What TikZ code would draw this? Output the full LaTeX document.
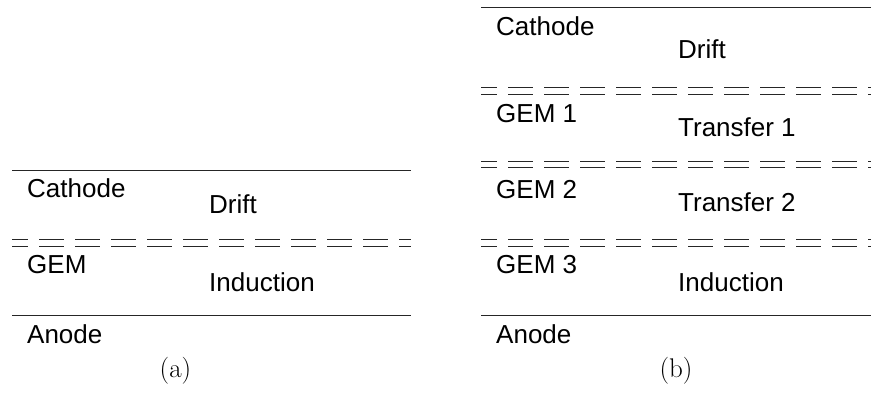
\documentclass[tikz,border=0pt]{standalone}
\usepackage{fontspec}
\setsansfont{Liberation Sans}
\begin{document}
\begin{tikzpicture}[x=1pt,y=-1pt,
  plate/.style={line width=1pt, draw=black!85},
  gemline/.style={line width=0.9pt, draw=black!85, dash pattern=on 25pt off 11pt, dash phase=9pt},
  lbl/.style={anchor=base west, inner sep=0pt, font=\fontsize{26}{30}\selectfont\sffamily},
  subcap/.style={anchor=center, inner sep=0pt, font=\fontsize{27}{30}\selectfont\rmfamily}]
\useasboundingbox (0,0) rectangle (871,410);
% ---------- (a) ----------
\coordinate (aTL) at (12,170.7);   \coordinate (aTR) at (411,170.7);
\coordinate (aG1L) at (12,239.7);  \coordinate (aG1R) at (411,239.7);
\coordinate (aG2L) at (12,246.3);  \coordinate (aG2R) at (411,246.3);
\coordinate (aAL) at (12,315.5);   \coordinate (aAR) at (411,315.5);
\draw[plate] (aTL) -- (aTR);
\draw[gemline] (aG1L) -- (aG1R);
\draw[gemline] (aG2L) -- (aG2R);
\draw[plate] (aAL) -- (aAR);
\node[lbl] (aCath) at (27,197) {Cathode};
\node[lbl] (aDrift) at (209,213) {Drift};
\node[lbl] (aGem) at (27,273) {GEM};
\node[lbl] (aInd) at (209,291) {Induction};
\node[lbl] (aAn) at (27,343) {Anode};
\node[subcap] (aCap) at (175.5,371) {(a)};
% ---------- (b) ----------
\coordinate (bTL) at (481,7.3);    \coordinate (bTR) at (871,7.3);
\coordinate (bD1aL) at (481,87.3); \coordinate (bD1aR) at (871,87.3);
\coordinate (bD1bL) at (481,94);   \coordinate (bD1bR) at (871,94);
\coordinate (bD2aL) at (481,161);  \coordinate (bD2aR) at (871,161);
\coordinate (bD2bL) at (481,167.5);\coordinate (bD2bR) at (871,167.5);
\coordinate (bD3aL) at (481,239.7);\coordinate (bD3aR) at (871,239.7);
\coordinate (bD3bL) at (481,246.3);\coordinate (bD3bR) at (871,246.3);
\coordinate (bAL) at (481,315.5);  \coordinate (bAR) at (871,315.5);
\draw[plate] (bTL) -- (bTR);
\draw[gemline] (bD1aL) -- (bD1aR);
\draw[gemline] (bD1bL) -- (bD1bR);
\draw[gemline] (bD2aL) -- (bD2aR);
\draw[gemline] (bD2bL) -- (bD2bR);
\draw[gemline] (bD3aL) -- (bD3aR);
\draw[gemline] (bD3bL) -- (bD3bR);
\draw[plate] (bAL) -- (bAR);
\node[lbl] (bCath) at (496,35) {Cathode};
\node[lbl] (bDrift) at (678,58) {Drift};
\node[lbl] (bGem1) at (496,122.5) {GEM 1};
\node[lbl] (bTr1) at (678,136.5) {Transfer 1};
\node[lbl] (bGem2) at (496,198) {GEM 2};
\node[lbl] (bTr2) at (678,211.5) {Transfer 2};
\node[lbl] (bGem3) at (496,273) {GEM 3};
\node[lbl] (bInd) at (678,291) {Induction};
\node[lbl] (bAn) at (496,343) {Anode};
\node[subcap] (bCap) at (676,371) {(b)};
\end{tikzpicture}
\end{document}
